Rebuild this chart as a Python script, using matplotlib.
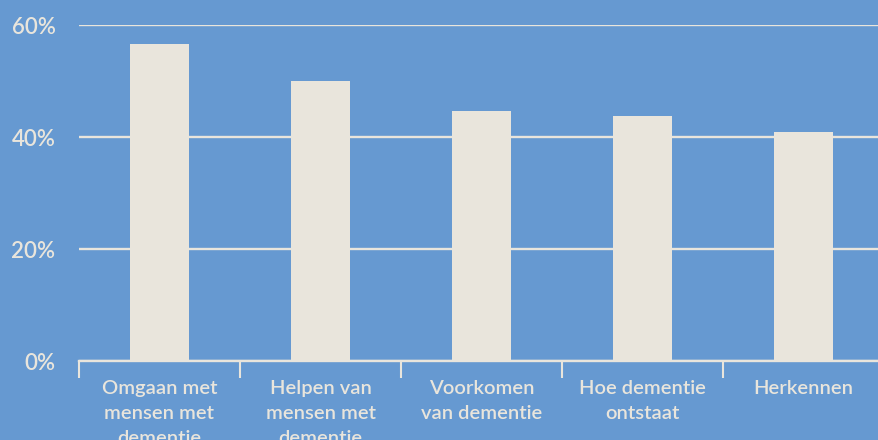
import numpy as np
import matplotlib.pyplot as plt

categories = ["Omgaan met\nmensen met\ndementie", "Helpen van\nmensen met\ndementie",
              "Voorkomen\nvan dementie", "Hoe dementie\nontstaat", "Herkennen"]
values = [56.6, 50.0, 44.7, 43.8, 40.9]
yticks = [0, 20, 40, 60]

bg = "#6699d1"
cream = "#e9e5dc"

plt.rcParams['font.family'] = ['Lato', 'DejaVu Sans']

fig = plt.figure(figsize=(8.79, 4.4), dpi=100, facecolor=bg)
ax = fig.add_axes([79 / 879, 79 / 440, 805 / 879, 336 / 440], facecolor=bg)

x = np.arange(len(categories))
ax.bar(x, values, width=0.367, color=cream, zorder=3)

ax.set_xlim(-0.5, len(categories) - 0.5)
ax.set_ylim(0, 60)
ax.set_yticks(yticks)
ax.set_yticklabels([f"{t}%" for t in yticks], fontweight='semibold')
ax.grid(axis='y', color=cream, linewidth=1.7, zorder=0)
ax.set_axisbelow(True)

ax.set_xticks(x)
ax.set_xticklabels(categories, linespacing=1.55, fontweight='semibold')
ax.set_xticks(np.arange(len(categories) + 1) - 0.5, minor=True)
ax.tick_params(axis='x', which='major', length=0, pad=14, labelsize=14.5, labelcolor=cream)
ax.tick_params(axis='x', which='minor', length=12, width=1.5, color=cream)
ax.tick_params(axis='y', length=0, pad=17, labelsize=16, labelcolor=cream)

for s in ['top', 'right', 'left']:
    ax.spines[s].set_visible(False)
ax.spines['bottom'].set_color(cream)
ax.spines['bottom'].set_linewidth(1.7)

fig.savefig("out.png", dpi=100, facecolor=bg)
